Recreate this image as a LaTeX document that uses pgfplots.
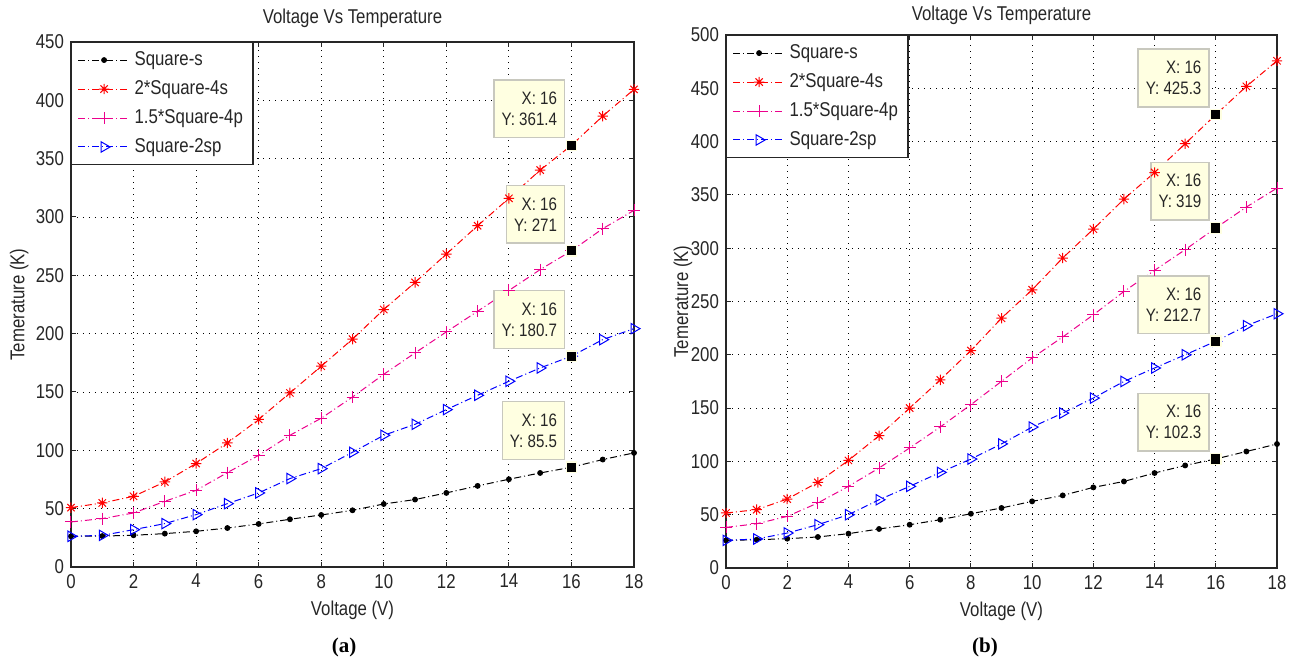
\documentclass[border=0pt]{standalone}
\usepackage{fontspec}
\setmainfont{Liberation Sans}[FakeStretch=0.84]
\newfontfamily\capfont{Liberation Serif}
\usepackage{pgfplots}
\pgfplotsset{compat=1.18}

\definecolor{txt}{RGB}{38,38,38}
\definecolor{tipbg}{RGB}{255,255,225}
\definecolor{tipedge}{RGB}{200,200,190}

% MATLAB-style '*' marker: a '+' and an 'x' on top of each other
\pgfdeclareplotmark{mstar}{%
  \pgfpathmoveto{\pgfqpoint{-\pgfplotmarksize}{0pt}}\pgfpathlineto{\pgfqpoint{\pgfplotmarksize}{0pt}}%
  \pgfpathmoveto{\pgfqpoint{0pt}{-\pgfplotmarksize}}\pgfpathlineto{\pgfqpoint{0pt}{\pgfplotmarksize}}%
  \pgfpathmoveto{\pgfqpoint{-0.707\pgfplotmarksize}{-0.707\pgfplotmarksize}}\pgfpathlineto{\pgfqpoint{0.707\pgfplotmarksize}{0.707\pgfplotmarksize}}%
  \pgfpathmoveto{\pgfqpoint{-0.707\pgfplotmarksize}{0.707\pgfplotmarksize}}\pgfpathlineto{\pgfqpoint{0.707\pgfplotmarksize}{-0.707\pgfplotmarksize}}%
  \pgfusepathqstroke}

\tikzset{
  dashdot/.style={line width=0.5pt, dash pattern=on 3.5pt off 1.5pt on 0.5pt off 1.5pt},
  tip/.style={draw=tipedge, line width=0.8pt, fill=tipbg, align=right, text=txt,
    font=\fontsize{9}{10.5}\selectfont, inner xsep=3.8pt, inner ysep=6pt,
    anchor=south east, xshift=-3pt, yshift=3.5pt},
}

\pgfplotsset{
  sqs/.style={black, dashdot, mark=*, mark size=1.2pt, mark options={solid}},
  sq4s/.style={red, dashdot, mark=mstar, mark size=2.6pt, mark options={solid, line width=0.5pt}},
  sq4p/.style={magenta, dashdot, mark=+, mark size=3pt, mark options={solid, line width=0.5pt}},
  sq2sp/.style={blue, dashdot, mark=triangle, mark size=3pt, mark options={solid, rotate=-90, line width=0.5pt}},
  tipmark/.style={only marks, forget plot, mark=square*, mark size=2.6pt, mark options={fill=black, draw=tipbg, line width=0.6pt}},
  mlab/.style={
    scale only axis,
    xmin=0, xmax=18, ymin=0,
    xtick={0,2,...,18}, ytick distance=50,
    grid=major,
    major grid style={black, line width=0.45pt, dash pattern=on 0.5pt off 2.5pt},
    axis line style={line width=0.6pt, txt},
    tick align=inside, major tick length=2.5pt,
    tick style={txt, line width=0.5pt},
    /pgf/number format/assume math mode=true,
    tick label style={font=\fontsize{10}{12}\selectfont, text=txt},
    label style={font=\fontsize{10}{12}\selectfont, text=txt},
    xlabel style={at={(0.5,0)}, anchor=base, yshift=-24.5pt},
    clip=false,
    legend cell align=left,
    legend style={at={(0,1)}, anchor=north west, draw=txt, line width=0.6pt, fill=white,
      font=\fontsize{10}{12}\selectfont, text=txt, row sep=2pt, inner xsep=3pt, inner ysep=2.5pt},
    legend image code/.code={\draw[mark repeat=2, mark phase=2] plot coordinates {(0pt,0pt) (13pt,0pt) (26pt,0pt)};},
    xlabel={Voltage (V)}, ylabel={Temerature (K)}, title={Voltage Vs Temperature},
  },
}

\begin{document}
\begin{tikzpicture}
% ---------- (a) ----------
\begin{axis}[mlab, at={(35.5pt,47.5pt)}, anchor=south west,
  width=281.5pt, height=262.5pt, ymax=450,
  ylabel style={at={(axis description cs:-0.092,0.5)}, anchor=center},
  every axis title/.style={at={(0.5,1)}, anchor=base, yshift=9pt,
    font=\fontsize{10}{12}\selectfont, text=txt}]
\addplot[sqs] coordinates {(0,26.3) (1,26.5) (2,27.2) (3,28.6) (4,30.6) (5,33.4) (6,36.9) (7,40.9) (8,44.6) (9,48.6) (10,54.0) (11,57.8) (12,63.5) (13,69.5) (14,75.2) (15,80.6) (16,85.5) (17,92.1) (18,97.8)};
\addplot[sq4s] coordinates {(0,50.9) (1,54.9) (2,60.6) (3,72.9) (4,88.7) (5,106.3) (6,126.5) (7,149.2) (8,172.1) (9,195.3) (10,220.7) (11,243.9) (12,268.2) (13,292.5) (14,316.0) (15,340.2) (16,361.4) (17,386.5) (18,409.4)};
\addplot[sq4p] coordinates {(0,38.6) (1,41.5) (2,46.3) (3,56.3) (4,65.7) (5,80.9) (6,95.7) (7,112.9) (8,127.5) (9,145.7) (10,165.2) (11,183.5) (12,201.5) (13,219.2) (14,237.0) (15,254.9) (16,271.0) (17,290.0) (18,305.7)};
\addplot[sq2sp] coordinates {(0,26.3) (1,27.1) (2,32.0) (3,37.2) (4,44.9) (5,54.3) (6,63.5) (7,75.8) (8,84.3) (9,98.3) (10,112.9) (11,122.3) (12,134.9) (13,147.2) (14,159.2) (15,170.6) (16,180.7) (17,194.9) (18,204.3)};
\legend{Square-s, 2*Square-4s, 1.5*Square-4p, Square-2sp}
\addplot[tipmark] coordinates {(16,361.4) (16,271) (16,180.7) (16,85.5)};
\node[tip] at (axis cs:16,361.4) {X: 16\\Y: 361.4};
\node[tip] at (axis cs:16,271) {X: 16\\Y: 271};
\node[tip] at (axis cs:16,180.7) {X: 16\\Y: 180.7};
\node[tip] at (axis cs:16,85.5) {X: 16\\Y: 85.5};
\end{axis}
% ---------- (b) ----------
\begin{axis}[mlab, at={(363pt,47pt)}, anchor=south west,
  width=275.5pt, height=266.5pt, ymax=500,
  ylabel style={at={(axis description cs:-0.078,0.5)}, anchor=center},
  every axis title/.style={at={(0.5,1)}, anchor=base, yshift=7pt,
    font=\fontsize{10}{12}\selectfont, text=txt}]
\addplot[sqs] coordinates {(0,25.9) (1,26.5) (2,27.5) (3,29.1) (4,32.2) (5,36.6) (6,40.6) (7,45.3) (8,50.9) (9,56.3) (10,62.5) (11,68.1) (12,75.6) (13,81.2) (14,89.1) (15,96.2) (16,102.3) (17,109.3) (18,116.3)};
\addplot[sq4s] coordinates {(0,51.6) (1,54.7) (2,64.7) (3,80.3) (4,100.9) (5,124.1) (6,150.0) (7,176.5) (8,204.0) (9,234.3) (10,261.0) (11,290.8) (12,317.9) (13,346.0) (14,371.0) (15,398.0) (16,425.3) (17,451.8) (18,475.8)};
\addplot[sq4p] coordinates {(0,38.1) (1,41.5) (2,48.4) (3,61.0) (4,76.6) (5,93.8) (6,112.6) (7,132.3) (8,153.2) (9,175.1) (10,197.0) (11,216.7) (12,237.5) (13,259.4) (14,279.2) (15,298.6) (16,319.0) (17,338.6) (18,356.4)};
\addplot[sq2sp] coordinates {(0,25.9) (1,27.2) (2,32.8) (3,40.6) (4,50.0) (5,64.0) (6,76.6) (7,89.7) (8,102.2) (9,116.4) (10,132.2) (11,145.3) (12,159.4) (13,175.0) (14,187.6) (15,200.0) (16,212.7) (17,227.3) (18,238.5)};
\legend{Square-s, 2*Square-4s, 1.5*Square-4p, Square-2sp}
\addplot[tipmark] coordinates {(16,425.3) (16,319) (16,212.7) (16,102.3)};
\node[tip] at (axis cs:16,425.3) {X: 16\\Y: 425.3};
\node[tip] at (axis cs:16,319) {X: 16\\Y: 319};
\node[tip] at (axis cs:16,212.7) {X: 16\\Y: 212.7};
\node[tip] at (axis cs:16,102.3) {X: 16\\Y: 102.3};
\end{axis}
\node[font=\capfont\bfseries\fontsize{10.5}{12}\selectfont, anchor=base] at (172pt,4.5pt) {(a)};
\node[font=\capfont\bfseries\fontsize{10.5}{12}\selectfont, anchor=base] at (492.5pt,4.5pt) {(b)};
\pgfresetboundingbox
\path (0pt,0pt) rectangle (648.5pt,331pt);
\end{tikzpicture}
\end{document}
